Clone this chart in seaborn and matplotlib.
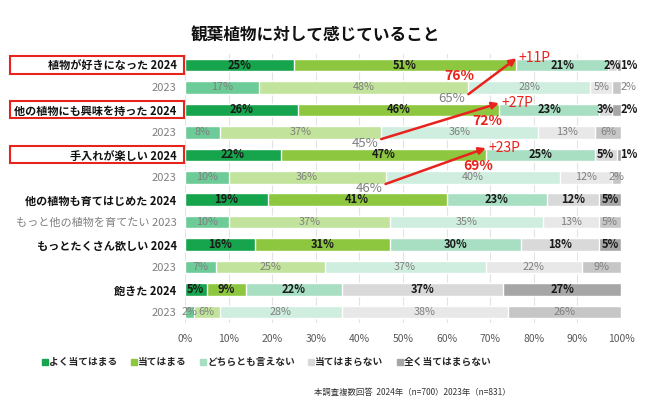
import matplotlib
matplotlib.use('Agg')
import matplotlib.pyplot as plt
import matplotlib.transforms as mtransforms
from matplotlib.patches import Rectangle
from matplotlib.lines import Line2D
import seaborn as sns
import pandas as pd

# データ
categorias = ['植物が好きになった 2024', '2023',
              '他の植物にも興味を持った 2024', '2023',
              '手入れが楽しい 2024', '2023',
              '他の植物も育てはじめた 2024', 'もっと他の植物を育てたい 2023',
              'もっとたくさん欲しい 2024', '2023',
              '飽きた 2024', '2023']
anos = ['2024', '2023'] * 6
niveis = ['よく当てはまる', '当てはまる', 'どちらとも言えない', '当てはまらない', '全く当てはまらない']
valores = [
    [25, 51, 21, 2, 1],
    [17, 48, 28, 5, 2],
    [26, 46, 23, 3, 2],
    [8, 37, 36, 13, 6],
    [22, 47, 25, 5, 1],
    [10, 36, 40, 12, 2],
    [19, 41, 23, 12, 5],
    [10, 37, 35, 13, 5],
    [16, 31, 30, 18, 5],
    [7, 25, 37, 22, 9],
    [5, 9, 22, 37, 27],
    [2, 6, 28, 38, 26],
]
destaques = [0, 2, 4]  # linhas 2024 com caixa vermelha e seta

cores_2024 = ['#16A44C', '#8DC63F', '#A8DFC3', '#D9D9D9', '#A6A6A6']
cores_2023 = ['#6CCB97', '#C2E39C', '#CFEEDF', '#E8E8E8', '#C6C6C6']
vermelho = '#E8231E'
cinza = '#7F7F7F'

linhas = ['r%d' % i for i in range(len(categorias))]
registros = []
for i, (linha, ano) in enumerate(zip(linhas, anos)):
    acum = 0
    for k, v in enumerate(valores[i]):
        acum += v
        registros.append({'linha': linha, 'ano': ano, 'nivel': k, 'valor': v,
                          'inicio': acum - v, 'acum': acum})
df = pd.DataFrame(registros)

sns.set_style('white')
plt.rcParams['font.family'] = ['Noto Sans CJK JP', 'DejaVu Sans']

fig = plt.figure(figsize=(6.5, 4.07), dpi=100)
ax = fig.add_axes([0.2846, 0.2059, 0.6708, 0.6619])

for xg in range(0, 101, 10):
    ax.axvline(xg, color='#E3E3E3', lw=0.8, zorder=0)

for k in reversed(range(len(niveis))):
    sub = df[df['nivel'] == k]
    sns.barplot(data=sub, x='acum', y='linha', hue='ano', order=linhas,
                hue_order=['2024', '2023'],
                palette={'2024': cores_2024[k], '2023': cores_2023[k]},
                dodge=False, width=0.56, saturation=1, legend=False,
                orient='h', ax=ax, zorder=2)

# rótulos das barras
for _, r in df.iterrows():
    i = linhas.index(r['linha'])
    xc = r['inicio'] + r['valor'] / 2
    if r['nivel'] == 4 and r['valor'] <= 2 and i < 5:
        xc = 101.8
    if r['ano'] == '2024':
        ax.text(xc, i, '%d%%' % r['valor'], ha='center', va='center',
                fontsize=8, fontweight='bold', color='#1a1a1a', zorder=5)
    else:
        ax.text(xc, i, '%d%%' % r['valor'], ha='center', va='center',
                fontsize=7.8, color=cinza, zorder=5)

ax.set_xlim(0, 100)
ax.set_ylim(len(linhas) - 0.5, -0.5)
ax.set_xlabel('')
ax.set_ylabel('')
ax.set_xticks(range(0, 101, 10))
ax.set_xticklabels(['%d%%' % t for t in range(0, 101, 10)], fontsize=7.5, color='#595959')
ax.set_yticks(range(len(linhas)))
ax.set_yticklabels(categorias, fontsize=8)
for i, lbl in enumerate(ax.get_yticklabels()):
    if anos[i] == '2024':
        lbl.set_fontweight('bold')
        lbl.set_color('#111111')
    else:
        lbl.set_color(cinza)
ax.tick_params(axis='y', length=0, pad=6)
ax.tick_params(axis='x', length=0, pad=8)
for s in ax.spines.values():
    s.set_visible(False)

# caixas vermelhas
trans = mtransforms.blended_transform_factory(fig.transFigure, ax.transData)
for i in destaques:
    ax.add_patch(Rectangle((10 / 650, i - 0.38), 174 / 650, 0.76, transform=trans,
                           fill=False, edgecolor=vermelho, lw=1.5, clip_on=False, zorder=6))

# setas de comparação
desloc_vermelho = [-13, -2.7, -1.8]
for n, i in enumerate(destaques):
    v24 = valores[i][0] + valores[i][1]
    v23 = valores[i + 1][0] + valores[i + 1][1]
    ax.annotate('', xy=(v24, i - 0.3), xytext=(v23, i + 1 + 0.3),
                arrowprops=dict(arrowstyle='-|>', color=vermelho, lw=1.8,
                                mutation_scale=10, shrinkA=0, shrinkB=0),
                zorder=7, annotation_clip=False)
    ax.text(v24 + 0.5, i - 0.32, '+%dP' % (v24 - v23), color=vermelho, fontsize=10,
            ha='left', va='center', zorder=7)
    ax.text(v24 + desloc_vermelho[n], i + 0.5, '%d%%' % v24, color=vermelho, fontsize=10,
            fontweight='bold', ha='center', va='center', zorder=7)
    ax.text(v23 - 3.8, i + 1.5, '%d%%' % v23, color=cinza, fontsize=9.5,
            ha='center', va='center', zorder=7)

fig.text(0.485, 0.912, '観葉植物に対して感じていること', ha='center', va='center',
         fontsize=12, fontweight='bold', color='#111111')

handles = [Line2D([0], [0], marker='s', linestyle='none', markersize=4,
                  markerfacecolor=c, markeredgecolor=c) for c in cores_2024]
leg = fig.legend(handles, niveis, loc='center', bbox_to_anchor=(0.41, 0.11), ncol=5,
                 frameon=False, fontsize=7, handletextpad=0.05, columnspacing=1.25,
                 handlelength=0.8)
for t in leg.get_texts():
    t.set_fontweight('bold')

fig.text(0.785, 0.037, '本調査複数回答  2024年（n=700）2023年（n=831）', ha='right', va='center',
         fontsize=6, color='#333333')

plt.savefig('out.png', dpi=100)
